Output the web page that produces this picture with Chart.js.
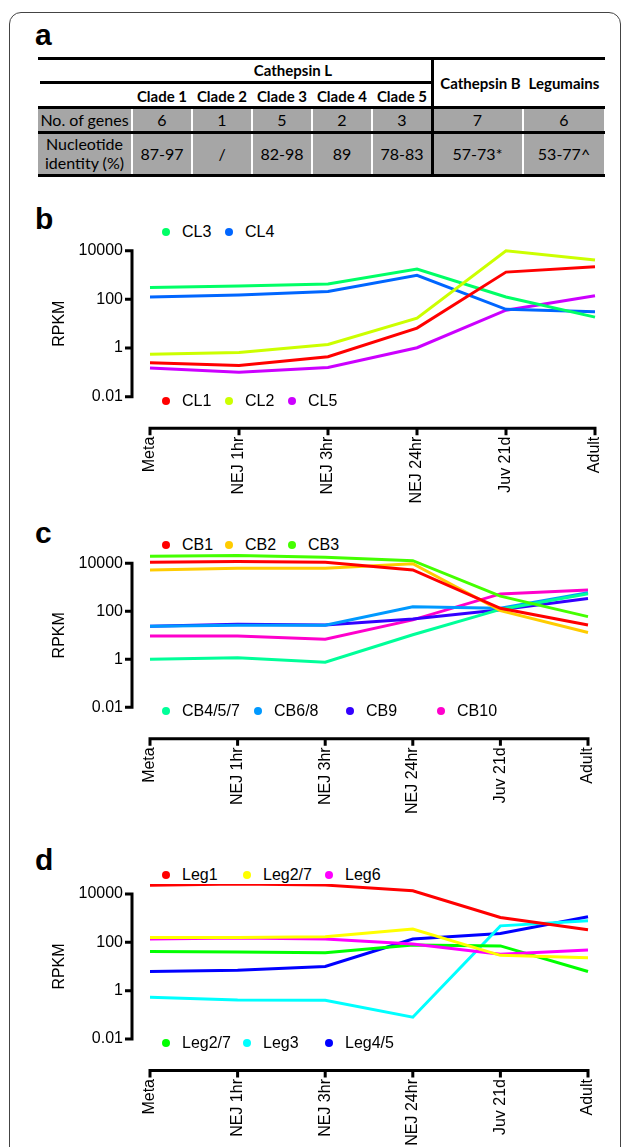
<!DOCTYPE html>
<html>
<head>
<meta charset="utf-8">
<script src="https://cdn.jsdelivr.net/npm/chart.js@4.4.1/dist/chart.umd.min.js"></script>
<style>
  body { margin: 0; background: #fff; width: 629px; height: 1147px; overflow: hidden; position: relative;
         font-family: "Liberation Sans", Arial, sans-serif; color: #000; }
  .frame { position: absolute; left: 9px; top: 12px; width: 612px; height: 1200px; border: 1.5px solid #444;
           border-radius: 12px; box-sizing: border-box; }
  .panel { position: absolute; left: 35px; font-weight: bold; font-size: 30px; line-height: 30px; }
  .tbl { position: absolute; left: 0; top: 0; font-family: Lato, "Open Sans", sans-serif; }
  .hl { position: absolute; background: #000; }
  .cell { position: absolute; display: flex; align-items: center; justify-content: center; text-align: center;
          line-height: 1.15; font-size: 16px; box-sizing: border-box; }
  .hd { font-weight: bold; font-size: 15px; }
  .gray { background: #a6a6a6; }
  canvas { position: absolute; left: 0; }
  .leg { position: absolute; font-size: 16px; line-height: 16px; white-space: nowrap; }
  .leg i { position: absolute; left: -4px; top: 4px; width: 8px; height: 8px; border-radius: 50%; }
  .leg span { position: absolute; left: 16px; top: 0; }
</style>
</head>
<body>
<div class="frame"></div>
<div class="panel" style="top:20px">a</div>
<div class="panel" style="top:204px">b</div>
<div class="panel" style="top:518px">c</div>
<div class="panel" style="top:845px">d</div>
<div class="tbl" id="tbl"></div>
<canvas id="chartB" width="629" height="280" style="top:240px"></canvas>
<canvas id="chartC" width="629" height="287" style="top:553px"></canvas>
<canvas id="chartD" width="629" height="263" style="top:884px"></canvas>
<script>
// ---- panel a table ----
const groupNames = ['Cathepsin L', 'Cathepsin B', 'Legumains'];
const cladeNames = ['Clade 1', 'Clade 2', 'Clade 3', 'Clade 4', 'Clade 5'];
const rowNames = ['No. of genes', 'Nucleotide identity (%)'];
const geneCounts = ['6', '1', '5', '2', '3', '7', '6'];
const identity = ['87-97', '/', '82-98', '89', '78-83', '57-73*', '53-77^'];

// ---- panels b-d ----
const stages = ['Meta', 'NEJ 1hr', 'NEJ 3hr', 'NEJ 24hr', 'Juv 21d', 'Adult'];
const yTicks = [0.01, 1, 100, 10000];

// b: cathepsin L clades
const cl1 = [0.25, 0.19, 0.44, 6.6, 1320, 2200];
const cl2 = [0.55, 0.66, 1.4, 17, 10000, 4150];
const cl3 = [310, 355, 430, 1770, 125, 18.6];
const cl4 = [125, 151, 210, 980, 39, 31];
const cl5 = [0.15, 0.10, 0.16, 1.03, 36, 141];

// c: cathepsin B
const cb1 = [11000, 12000, 11000, 5300, 133, 27];
const cb2 = [5300, 6200, 6200, 9600, 107, 13];
const cb3 = [19500, 21000, 18000, 12900, 430, 60];
const cb457 = [1.0, 1.17, 0.76, 10.5, 120, 540];
const cb68 = [24, 26, 26, 156, 133, 600];
const cb9 = [24, 29, 27, 48, 115, 345];
const cb10 = [9.3, 9.3, 6.9, 44, 530, 770];

// d: legumains
const leg1 = [23000, 26000, 23400, 13700, 1070, 330];
const leg27y = [160, 160, 170, 355, 29, 23];
const leg6 = [138, 152, 138, 85, 32, 48];
const leg27g = [42, 40, 37, 78, 71, 6.2];
const leg3 = [0.53, 0.41, 0.40, 0.08, 480, 790];
const leg45 = [6.2, 7, 10, 138, 232, 1150];

// build table
const tbl = document.getElementById('tbl');
const colX = [38, 132, 192, 252, 312, 372, 432, 523, 605];

function add(cls, l, t, w, h, html) {
  const d = document.createElement('div');
  d.className = cls;
  d.style.left = l + 'px'; d.style.top = t + 'px';
  d.style.width = w + 'px'; d.style.height = h + 'px';
  if (html !== undefined) d.textContent = html;
  tbl.appendChild(d);
  return d;
}

add('cell hd', 132, 61, 300, 20, groupNames[0]).style.paddingLeft = '22px';
cladeNames.forEach((c, i) => add('cell hd', colX[i + 1], 86, colX[i + 2] - colX[i + 1], 21, c));
add('cell hd', colX[6], 62, colX[7] - colX[6] + 6, 44, groupNames[1]);
add('cell hd', colX[7], 62, colX[8] - colX[7], 44, groupNames[2]);

// gray rows
const rows = [[109, 22, geneCounts], [133.5, 40.5, identity]];
rows.forEach(([top, h, vals], r) => {
  add('cell gray', colX[0], top, colX[1] - colX[0] - 1, h, rowNames[r]).style.padding = '0 2px';
  vals.forEach((v, i) => {
    const l = colX[i + 1] + 1, w = colX[i + 2] - colX[i + 1] - 2;
    add('cell gray', l, top, w, h, v);
  });
});

// rules
add('hl', 38, 57, 567, 3);
add('hl', 40, 81, 392, 2.5);
add('hl', 38, 106, 567, 3);
add('hl', 38, 130.5, 567, 3);
add('hl', 38, 174, 567, 3);
add('hl', 430.5, 57, 3, 120);

// ---- charts ----
Chart.defaults.font.family = '"Liberation Sans", Arial, sans-serif';
Chart.defaults.color = '#000';

// Prism style axes, drawn detached from the plot area
const offsetAxes = {
  id: 'offsetAxes',
  afterDraw(chart) {
    const { ctx, chartArea, scales: { x, y } } = chart;
    ctx.save();
    ctx.strokeStyle = '#000';
    ctx.lineWidth = 3;
    const ax = chartArea.left - 18;
    const yTop = y.getPixelForValue(y.max), yBot = y.getPixelForValue(y.min);
    ctx.beginPath();
    ctx.moveTo(ax, yTop - 1.5); ctx.lineTo(ax, yBot + 1.5);
    yTicks.forEach(v => {
      const py = y.getPixelForValue(v);
      ctx.moveTo(ax, py); ctx.lineTo(ax - 7, py);
    });
    const ay = chartArea.bottom + 31.5;
    const x0 = x.getPixelForValue(0), x1 = x.getPixelForValue(stages.length - 1);
    ctx.moveTo(x0 - 1.5, ay); ctx.lineTo(x1 + 1.5, ay);
    stages.forEach((s, i) => {
      const px = x.getPixelForValue(i);
      ctx.moveTo(px, ay); ctx.lineTo(px, ay + 7);
    });
    ctx.stroke();
    ctx.restore();
  }
};

function buildChart(id, box, series) {
  const cv = document.getElementById(id);
  const canvasTop = parseFloat(cv.style.top);
  const relBottom = box.bottom - canvasTop;
  return new Chart(cv, {
    type: 'line',
    data: {
      labels: stages,
      datasets: series.map(s => ({
        label: s[0], data: s[1], borderColor: s[2], backgroundColor: s[2],
        borderWidth: 3, pointRadius: 0, tension: 0, clip: false
      }))
    },
    options: {
      responsive: false,
      animation: false,
      events: [],
      layout: { padding: { left: box.left - 100, right: 629 - box.right, top: box.top - canvasTop, bottom: 0 } },
      plugins: { legend: { display: false }, tooltip: { enabled: false } },
      scales: {
        x: {
          type: 'category', offset: false,
          grid: { display: false, drawTicks: true, tickLength: 40 }, border: { display: false },
          ticks: { font: { size: 16 }, minRotation: 90, maxRotation: 90, autoSkip: false, padding: 0 },
          afterFit: s => { s.height = cv.height - relBottom; }
        },
        y: {
          type: 'logarithmic', min: 0.01, max: 10000,
          grid: { display: false, drawTicks: true, tickLength: 27 }, border: { display: false },
          afterBuildTicks: s => { s.ticks = yTicks.map(v => ({ value: v })); },
          ticks: { font: { size: 16 }, padding: 0, callback: v => String(v) },
          title: { display: true, text: 'RPKM', font: { size: 16 }, padding: { top: 0, bottom: 0 } },
          afterFit: s => { s.width = 100; }
        }
      }
    },
    plugins: [offsetAxes]
  });
}

function legend(chart, idx, slots, y) {
  idx.forEach((k, i) => {
    const ds = chart.data.datasets[k];
    const d = document.createElement('div');
    d.className = 'leg';
    d.style.left = slots[i] + 'px';
    d.style.top = (y - 8) + 'px';
    d.innerHTML = '<i style="background:' + ds.borderColor + '"></i><span>' + ds.label + '</span>';
    document.body.appendChild(d);
  });
}

const chartB = buildChart('chartB', { left: 150, right: 595, top: 250.7, bottom: 396.7 }, [
  ['CL1', cl1, '#ff0000'],
  ['CL2', cl2, '#ccff00'],
  ['CL3', cl3, '#00ff66'],
  ['CL4', cl4, '#0066ff'],
  ['CL5', cl5, '#cc00ff']
]);
legend(chartB, [2, 3], [166, 229], 232);
legend(chartB, [0, 1, 4], [166, 229, 292], 401);

const chartC = buildChart('chartC', { left: 150, right: 588, top: 563.3, bottom: 707.3 }, [
  ['CB1', cb1, '#ff0000'],
  ['CB2', cb2, '#ffcc00'],
  ['CB3', cb3, '#44ff00'],
  ['CB4/5/7', cb457, '#00ff99'],
  ['CB6/8', cb68, '#0099ff'],
  ['CB9', cb9, '#3300ff'],
  ['CB10', cb10, '#ff00cc']
]);
legend(chartC, [0, 1, 2], [166, 229, 292], 545);
legend(chartC, [3, 4, 5, 6], [166, 258, 350, 441], 711);

const chartD = buildChart('chartD', { left: 150, right: 588, top: 894, bottom: 1039 }, [
  ['Leg1', leg1, '#ff0000'],
  ['Leg2/7', leg27y, '#ffff00'],
  ['Leg6', leg6, '#ff00ff'],
  ['Leg2/7', leg27g, '#00ff00'],
  ['Leg3', leg3, '#00ffff'],
  ['Leg4/5', leg45, '#0000ff']
]);
legend(chartD, [0, 1, 2], [166, 247, 329], 875);
legend(chartD, [3, 4, 5], [166, 247, 329], 1043);
</script>
</body>
</html>
